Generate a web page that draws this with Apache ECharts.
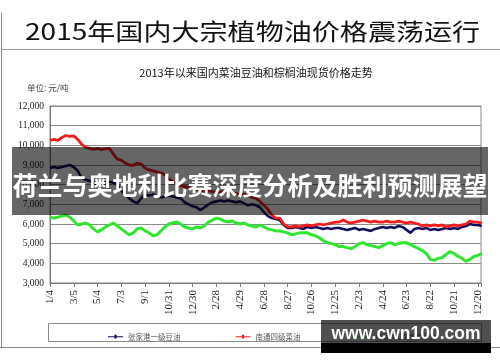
<!DOCTYPE html>
<html><head><meta charset="utf-8">
<script src="https://cdn.jsdelivr.net/npm/echarts@6/dist/echarts.min.js"></script>
<style>html,body{margin:0;padding:0;background:#fff}#c{width:500px;height:362px}</style>
</head><body><div id="c"></div>
<script>
const seriesNames = ['张家港一级豆油', '南通四级菜油', '张家港24度棕榈油'];
const xTickLabels = ['1/4','3/5','5/4','7/3','9/1','10/31','12/30','2/28','4/29','6/28','8/27','10/26','12/25','2/23','4/24','6/23','8/22','10/21','12/20'];
const yTickLabels = ['3,000','4,000','5,000','6,000','7,000','8,000','9,000','10,000','11,000','12,000'];
const dayStep = 10; // days between samples
const soyOil = [8850,8900,8850,8900,8950,9000,8900,8700,8350,8250,
 8200,8100,8000,8050,8100,8150,8100,8000,7700,7500,
 7300,7150,7050,7300,7500,7450,7500,7400,7350,7400,
 7450,7400,7350,7300,7100,7000,6900,6850,6700,6850,
 7000,7100,7150,7200,7150,7200,7150,7100,7150,7050,
 6950,7000,6950,6850,6600,6400,6300,6250,6200,5950,
 5800,5800,5850,5800,5750,5850,5800,5850,5800,5750,
 5800,5750,5800,5800,5750,5700,5750,5800,5700,5750,
 5700,5650,5750,5800,5850,5800,5850,5800,5900,5850,
 5700,5550,5750,5800,5750,5800,5700,5750,5700,5750,
 5800,5750,5800,5750,5850,5900,6000,5950,5950,5900];
const rapeOil = [10250,10300,10250,10400,10500,10450,10480,10300,10050,9900,
 9850,9800,9850,9780,9830,9850,9550,9300,9250,9100,
 9000,8980,9100,9050,8850,8750,8700,8650,8600,8500,
 8300,8150,8050,7950,7900,7850,7800,7750,7700,7650,
 7680,7650,7600,7650,7620,7650,7600,7550,7500,7520,
 7450,7350,7300,7150,6950,6750,6450,6300,6300,6000,
 5850,5850,5900,5850,5900,5950,5900,5950,6000,5950,
 6000,6050,6100,6100,6200,6100,6050,6100,6150,6200,
 6150,6100,6150,6100,6100,6150,6100,6100,6150,6100,
 6050,6100,6050,6000,5900,5950,5900,5950,5900,5950,
 5850,5900,5950,5900,5950,6000,6150,6100,6100,6050];
const palmOil = [6350,6300,6350,6400,6450,6350,6150,5950,6000,6050,
 5950,5750,5600,5700,5850,5950,6050,5900,5750,5600,
 5450,5550,5750,5800,5650,5550,5400,5450,5650,5850,
 6000,6050,6100,6000,5850,5800,5750,5850,5800,5900,
 6100,6200,6300,6250,6150,6100,6150,6050,6000,6050,
 5950,5900,5850,5950,5850,5750,5700,5650,5650,5600,
 5550,5450,5500,5550,5550,5550,5450,5400,5300,5150,
 5050,5000,4950,4850,4850,4800,4750,4850,5000,5050,
 4950,4900,4850,4800,4900,5000,5050,4950,5000,5050,
 5050,4950,4850,4750,4650,4500,4200,4150,4250,4300,
 4450,4600,4500,4350,4250,4100,4200,4350,4400,4500];

const toPairs = arr => arr.map((v, i) => [i * dayStep, v]);
const colors = ['#10105e', '#f51c1c', '#2fe62f'];
const serif = '"Liberation Serif", "DejaVu Serif", serif';
const cjk = '"Noto Sans CJK SC", sans-serif';
const iconPath = 'path://M0,3.4H20V4.6H0Z M8.5,1.5H11.5V6.5H8.5Z';

const chart = echarts.init(document.getElementById('c'), null, {renderer: 'canvas'});
chart.setOption({
  animation: false,
  backgroundColor: '#ffffff',
  grid: {left: 50, right: 19, top: 106, bottom: 79, show: true, borderColor: '#8a8a8a', borderWidth: 1},
  xAxis: {
    type: 'value', min: 0, max: 1088, interval: 60,
    axisLine: {lineStyle: {color: '#777'}},
    axisTick: {show: true, length: 4, lineStyle: {color: '#777'}},
    splitLine: {show: false},
    axisLabel: {
      rotate: 90, margin: 7, fontSize: 11, fontFamily: serif, color: '#222',
      formatter: v => (v % 60 === 0 ? (xTickLabels[v / 60] || '') : '')
    }
  },
  yAxis: {
    type: 'value', min: 3000, max: 12000, interval: 1000,
    axisLine: {show: true, lineStyle: {color: '#777'}},
    axisTick: {show: false},
    splitLine: {lineStyle: {color: '#8a8a8a', width: 1}},
    axisLabel: {
      margin: 6, fontSize: 9.5, fontFamily: serif, color: '#222',
      formatter: v => yTickLabels[Math.round((v - 3000) / 1000)] || ''
    }
  },
  legend: {
    left: 103, top: 328, orient: 'horizontal',
    itemWidth: 15, itemHeight: 6, itemGap: 55,
    textStyle: {fontSize: 7.5, fontFamily: cjk, color: '#555'},
    data: seriesNames.map(n => ({name: n, icon: iconPath}))
  },
  series: [
    {name: seriesNames[0], type: 'line', data: toPairs(soyOil), showSymbol: false, symbol: 'none', color: colors[0], lineStyle: {width: 2.6, color: colors[0]}, z: 2},
    {name: seriesNames[1], type: 'line', data: toPairs(rapeOil), showSymbol: false, symbol: 'none', color: colors[1], lineStyle: {width: 2.8, color: colors[1]}, z: 3},
    {name: seriesNames[2], type: 'line', data: toPairs(palmOil), showSymbol: false, symbol: 'none', color: colors[2], lineStyle: {width: 3, color: colors[2]}, z: 2}
  ],
  graphic: {elements: [
    {type: 'line', shape: {x1: 1.5, y1: 13, x2: 1.5, y2: 347}, style: {stroke: '#888', lineWidth: 1}, z: 1},
    {type: 'line', shape: {x1: 1, y1: 49.5, x2: 500, y2: 49.5}, style: {stroke: '#999', lineWidth: 1}, z: 1},
    {type: 'line', shape: {x1: 0, y1: 347.5, x2: 500, y2: 347.5}, style: {stroke: '#888', lineWidth: 1}, z: 1},
    {type: 'text', x: 25, y: 31, scaleX: 1.22, style: {text: '2015年国内大宗植物油价格震荡运行', fontSize: 23, fontFamily: cjk, fill: '#111', verticalAlign: 'middle', align: 'left'}, z: 5},
    {type: 'text', x: 256, y: 73, style: {text: '2013年以来国内菜油豆油和棕榈油现货价格走势', fontSize: 11, fontFamily: cjk, fill: '#111', verticalAlign: 'middle', align: 'center'}, z: 5},
    {type: 'text', x: 27, y: 88, style: {text: '单位: 元/吨', fontSize: 8.5, fontFamily: cjk, fill: '#444', verticalAlign: 'middle', align: 'left'}, z: 5},
    {type: 'rect', shape: {x: 48.5, y: 323.5, width: 433, height: 18}, style: {fill: '#fff', stroke: '#888', lineWidth: 1}, z: 0},
    {type: 'rect', shape: {x: 12, y: 147, width: 476, height: 68}, style: {fill: 'rgba(0,0,0,0.6)'}, z: 100},
    {type: 'text', x: 250, y: 185, style: {text: '荷兰与奥地利比赛深度分析及胜利预测展望', fontSize: 25, fontWeight: 'bold', fontFamily: cjk, fill: '#ffffff', verticalAlign: 'middle', align: 'center'}, z: 101},
    {type: 'rect', shape: {x: 321, y: 320, width: 170, height: 24}, style: {fill: 'rgba(20,20,20,0.75)'}, z: 100},
    {type: 'rect', shape: {x: 321, y: 343, width: 170, height: 10}, style: {fill: '#000'}, z: 100},
    {type: 'text', x: 406, y: 334, style: {text: 'www.cwn100.com', fontSize: 17.5, fontWeight: 'bold', fontFamily: '"Liberation Sans", Arial, sans-serif', fill: '#ffffff', verticalAlign: 'middle', align: 'center'}, z: 101}
  ]}
});
</script>
</body></html>
